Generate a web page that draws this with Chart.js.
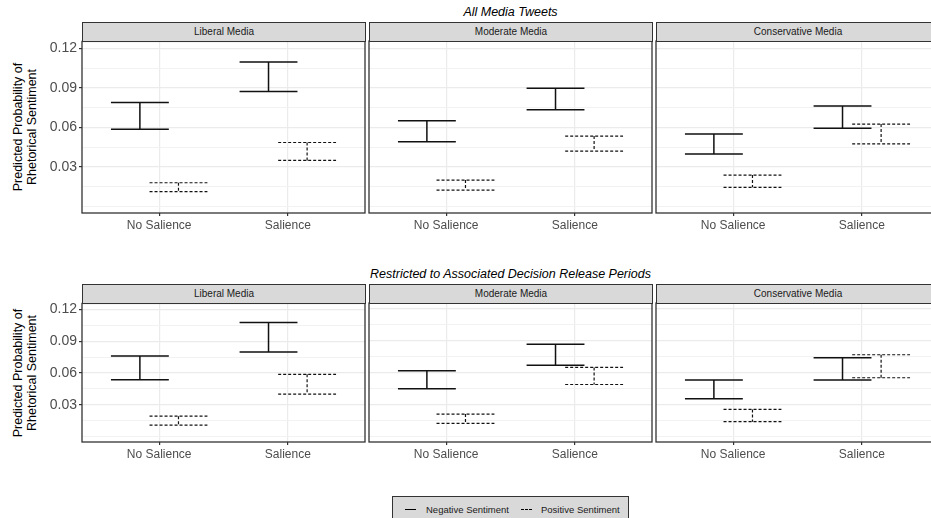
<!DOCTYPE html>
<html>
<head>
<meta charset="utf-8">
<script src="https://cdn.jsdelivr.net/npm/chart.js@4.4.0/dist/chart.umd.min.js"></script>
<style>
  body { margin: 0; width: 931px; height: 518px; overflow: hidden; background: #fff; position: relative;
         font-family: "Liberation Sans", Arial, sans-serif; }
  .strip { position: absolute; background: #d9d9d9; border: 1px solid #333; box-sizing: border-box;
           font-size: 10px; color: #1a1a1a; text-align: center; line-height: 17px; }
  .rowTitle { position: absolute; left: 82px; width: 857px; text-align: center; font-style: italic;
              font-size: 12.5px; color: #000; line-height: 14px; }
  .yTitle { position: absolute; width: 200px; height: 28px; transform: rotate(-90deg); text-align: center;
            font-size: 12.5px; line-height: 14px; color: #000; }
  #legend { position: absolute; left: 392px; top: 496px; width: 237px; height: 30px; background: #d9d9d9;
            border: 1px solid #333; box-sizing: border-box; font-size: 9.5px; color: #1a1a1a; }
  #legend span { position: absolute; top: 7px; }
  #legend i { position: absolute; top: 12px; width: 11px; height: 0; border-top: 1.5px solid #000; }
</style>
</head>
<body>
<script>
// categories and facets
const categories = ['No Salience', 'Salience'];
const mediaTypes = ['Liberal Media', 'Moderate Media', 'Conservative Media'];
const rowTitles = ['All Media Tweets', 'Restricted to Associated Decision Release Periods'];
const seriesNames = ['Negative Sentiment', 'Positive Sentiment'];
const yTickValues = [0.03, 0.06, 0.09, 0.12];

// All media tweets, per media type: [No Salience, Salience]
const allNegLow  = [[0.0587, 0.0874], [0.0491, 0.0734], [0.0398, 0.0593]];
const allNegHigh = [[0.0790, 0.1098], [0.0650, 0.0896], [0.0550, 0.0762]];
const allPosLow  = [[0.0112, 0.0350], [0.0124, 0.0420], [0.0145, 0.0474]];
const allPosHigh = [[0.0180, 0.0486], [0.0200, 0.0534], [0.0238, 0.0625]];

// Restricted to decision release periods
const relNegLow  = [[0.0537, 0.0797], [0.0450, 0.0671], [0.0356, 0.0531]];
const relNegHigh = [[0.0759, 0.1074], [0.0619, 0.0868], [0.0531, 0.0741]];
const relPosLow  = [[0.0109, 0.0400], [0.0125, 0.0490], [0.0141, 0.0553]];
const relPosHigh = [[0.0193, 0.0587], [0.0212, 0.0650], [0.0256, 0.0769]];

const rows = [
  { neg: [allNegLow, allNegHigh], pos: [allPosLow, allPosHigh] },
  { neg: [relNegLow, relNegHigh], pos: [relPosLow, relPosHigh] }
];

// layout of the facet grid
const panelLeft = [82, 369, 656];
const panelWidth = 283;
const panelTop = [41, 303];
const panelHeight = [172, 139];
const xAxisH = 26;
const yAxisW = 44;

// major grid at tick labels, minor grid halfway (ggplot style)
const yStep = yTickValues[1] - yTickValues[0];
const gridValues = [];
[yTickValues[0] - yStep, ...yTickValues].forEach(v => {
  gridValues.push(v);
  if (v + yStep / 2 < 0.125) gridValues.push(v + yStep / 2);
});
const isMajor = v => yTickValues.some(t => Math.abs(t - v) < 1e-9);

const errorBars = {
  id: 'errorBars',
  afterDatasetsDraw(chart) {
    const ctx = chart.ctx;
    chart.data.datasets.forEach((ds, i) => {
      const meta = chart.getDatasetMeta(i);
      ctx.save();
      ctx.strokeStyle = ds.lineColor;
      ctx.lineWidth = ds.lineWidth;
      ctx.setLineDash(ds.lineDash);
      meta.data.forEach(bar => {
        const { x, y, base, width } = bar.getProps(['x', 'y', 'base', 'width'], true);
        const l = x - width / 2, r = x + width / 2;
        ctx.beginPath();
        ctx.moveTo(l, y); ctx.lineTo(r, y);
        ctx.moveTo(x, y); ctx.lineTo(x, base);
        ctx.moveTo(l, base); ctx.lineTo(r, base);
        ctx.stroke();
      });
      ctx.restore();
    });
  }
};

const panelFrame = {
  id: 'panelFrame',
  afterDraw(chart) {
    const { ctx, chartArea: a } = chart;
    ctx.save();
    ctx.strokeStyle = '#333';
    ctx.lineWidth = 1.3;
    ctx.strokeRect(a.left, a.top, a.right - a.left, a.bottom - a.top);
    ctx.restore();
  }
};

function series(low, high, c) {
  return categories.map((cat, i) => ({ x: i + 1, y: [low[c][i], high[c][i]] }));
}

function makePanel(r, c) {
  const yW = c === 0 ? yAxisW : 0;
  const canvas = document.createElement('canvas');
  canvas.width = panelWidth + yW + 4;
  canvas.height = 10 + panelHeight[r] + xAxisH;
  canvas.style.cssText = 'position:absolute;left:' + (panelLeft[c] - yW - 2) + 'px;top:' + (panelTop[r] - 10) + 'px';
  document.body.appendChild(canvas);

  const strip = document.createElement('div');
  strip.className = 'strip';
  strip.textContent = mediaTypes[c];
  strip.style.cssText = 'left:' + panelLeft[c] + 'px;top:' + (panelTop[r] - 19) + 'px;width:' + (panelWidth + 1) + 'px;height:20px';
  document.body.appendChild(strip);

  const rd = rows[r];
  new Chart(canvas, {
    type: 'bar',
    data: {
      datasets: [
        { label: seriesNames[0], data: series(rd.neg[0], rd.neg[1], c),
          lineColor: '#111', lineWidth: 1.5, lineDash: [] },
        { label: seriesNames[1], data: series(rd.pos[0], rd.pos[1], c),
          lineColor: '#111', lineWidth: 1.2, lineDash: [3, 2] }
      ].map(d => Object.assign(d, {
        backgroundColor: 'rgba(0,0,0,0)', borderWidth: 0,
        categoryPercentage: 0.6, barPercentage: 1.5
      }))
    },
    options: {
      responsive: false,
      animation: false,
      events: [],
      layout: { padding: { top: 10, left: 2, right: 2, bottom: 0 } },
      plugins: { legend: { display: false }, tooltip: { enabled: false } },
      scales: {
        x: {
          type: 'linear', min: 0.4, max: 2.6, offset: false,
          afterBuildTicks: s => { s.ticks = categories.map((cat, i) => ({ value: i + 1 })); },
          afterFit: s => { s.height = xAxisH; },
          border: { display: false },
          grid: { offset: false, color: '#ebebeb', lineWidth: 1.2, tickColor: '#333', tickLength: 3 },
          ticks: { autoSkip: false, maxRotation: 0, padding: 2, color: '#4d4d4d',
                   font: { family: 'Liberation Sans', size: 12 },
                   callback: (v, i) => categories[i] }
        },
        y: {
          type: 'linear', min: -0.005, max: 0.1255,
          afterBuildTicks: s => { s.ticks = gridValues.map(v => ({ value: v })); },
          afterFit: s => { s.width = yW; },
          border: { display: false },
          grid: {
            color: ctx => isMajor(ctx.tick.value) ? '#ebebeb' : '#f2f2f2',
            lineWidth: ctx => isMajor(ctx.tick.value) ? 1.2 : 1,
            tickColor: ctx => isMajor(ctx.tick.value) ? '#333' : 'rgba(0,0,0,0)',
            tickLength: 3,
            drawTicks: c === 0
          },
          ticks: { display: c === 0, autoSkip: false, padding: 2, color: '#4d4d4d',
                   font: { family: 'Liberation Sans', size: 14 },
                   callback: v => isMajor(v) ? v.toFixed(2) : '' }
        }
      }
    },
    plugins: [errorBars, panelFrame]
  });
}

rowTitles.forEach((t, r) => {
  const title = document.createElement('div');
  title.className = 'rowTitle';
  title.textContent = t;
  title.style.top = (panelTop[r] - 36) + 'px';
  document.body.appendChild(title);

  const yt = document.createElement('div');
  yt.className = 'yTitle';
  yt.innerHTML = 'Predicted Probability of<br>Rhetorical Sentiment';
  yt.style.left = (25 - 100) + 'px';
  yt.style.top = (panelTop[r] + panelHeight[r] / 2 - 14) + 'px';
  document.body.appendChild(yt);

  mediaTypes.forEach((m, c) => makePanel(r, c));
});

// shared legend
const legend = document.createElement('div');
legend.id = 'legend';
legend.innerHTML =
  '<i style="left:12px"></i><span style="left:33px">' + seriesNames[0] + '</span>' +
  '<i style="left:128px;border-top-style:dashed;border-top-width:1.2px"></i><span style="left:148px">' + seriesNames[1] + '</span>';
document.body.appendChild(legend);
</script>
</body>
</html>
